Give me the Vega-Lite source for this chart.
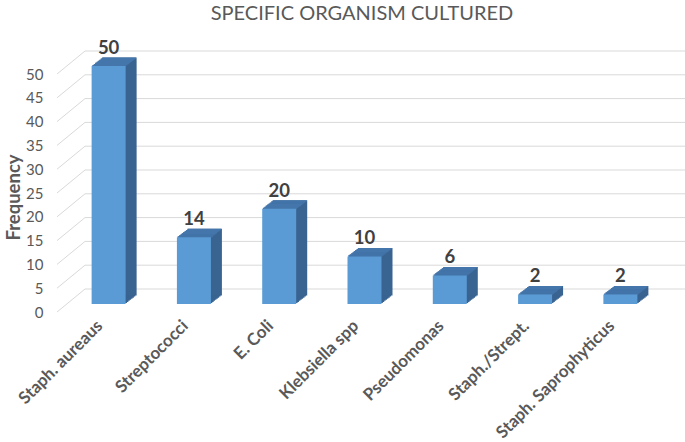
{
  "$schema": "https://vega.github.io/schema/vega-lite/v6.json",
  "width": 600,
  "height": 238,
  "autosize": {"type": "none"},
  "padding": {"left": 85, "top": 51, "right": 0, "bottom": 153},
  "background": "#ffffff",
  "title": {"text": "SPECIFIC ORGANISM CULTURED", "font": "Lato", "fontSize": 20, "fontWeight": "normal", "color": "#595959", "anchor": "middle", "frame": "group", "dx": -23, "offset": 15},
  "config": {
    "view": {"stroke": null},
    "axisX": {"title": null, "domain": false, "ticks": false, "labelAngle": -45, "labelAlign": "right", "labelBaseline": "middle", "labelOffset": -29, "labelPadding": 34, "labelFont": "Lato", "labelFontSize": 17, "labelFontWeight": "bold", "labelColor": "#595959", "labelOverlap": false, "labelLimit": 300, "labelBound": false, "grid": false},
    "axisY": {"grid": false, "domain": false, "ticks": false, "labelOverlap": false, "labelOffset": 23, "labelPadding": 42, "labelFont": "Lato", "labelFontSize": 15, "labelColor": "#595959", "titleFont": "Lato", "titleFontSize": 18.5, "titleFontWeight": "bold", "titleColor": "#595959", "titleAngle": -90, "titleX": -72, "titleY": 146, "titleAlign": "center", "titleBaseline": "middle"}
  },
  "datasets": {
    "organisms": [
      {"organism": "Staph. aureaus", "frequency": 50},
      {"organism": "Streptococci", "frequency": 14},
      {"organism": "E. Coli", "frequency": 20},
      {"organism": "Klebsiella spp", "frequency": 10},
      {"organism": "Pseudomonas", "frequency": 6},
      {"organism": "Staph./Strept.", "frequency": 2},
      {"organism": "Staph. Saprophyticus", "frequency": 2}
    ],
    "ticks": [
      {"t": 0}, {"t": 5}, {"t": 10}, {"t": 15}, {"t": 20}, {"t": 25},
      {"t": 30}, {"t": 35}, {"t": 40}, {"t": 45}, {"t": 50}
    ]
  },
  "data": {"name": "organisms"},
  "encoding": {
    "x": {
      "field": "organism", "type": "nominal", "title": null,
      "scale": {"domain": ["Staph. aureaus", "Streptococci", "E. Coli", "Klebsiella spp", "Pseudomonas", "Staph./Strept.", "Staph. Saprophyticus"], "paddingInner": 0.6014, "paddingOuter": 0.318}
    },
    "y": {
      "field": "frequency", "type": "quantitative", "title": "Frequency",
      "scale": {"domain": [0, 50], "nice": false},
      "axis": {"values": [0, 5, 10, 15, 20, 25, 30, 35, 40, 45, 50], "labelOverlap": false}
    }
  },
  "layer": [
    {
      "data": {"name": "ticks"},
      "mark": {"type": "rule", "color": "#d9d9d9", "strokeWidth": 1},
      "encoding": {
        "x": null,
        "y": {"field": "t", "type": "quantitative", "title": "Frequency", "axis": {"values": [0, 5, 10, 15, 20, 25, 30, 35, 40, 45, 50], "labelOverlap": false}}
      }
    },
    {
      "data": {"name": "ticks"},
      "mark": {"type": "rule", "color": "#d9d9d9", "strokeWidth": 1, "xOffset": -55.1, "x2Offset": -27.1, "yOffset": 23, "y2Offset": 0},
      "encoding": {
        "x": {"datum": "Staph. aureaus", "type": "nominal", "bandPosition": 0, "title": null},
        "x2": {"datum": "Staph. aureaus", "bandPosition": 0},
        "y": {"field": "t", "type": "quantitative", "title": "Frequency", "axis": {"values": [0, 5, 10, 15, 20, 25, 30, 35, 40, 45, 50], "labelOverlap": false}},
        "y2": {"field": "t"}
      }
    },
    {"mark": {"type": "bar", "color": "#396390", "xOffset": -19.125, "x2Offset": -19.125, "yOffset": 13.9375, "y2Offset": 13.9375}, "encoding": {"y2": {"datum": 0}}},
    {"mark": {"type": "bar", "color": "#396390", "xOffset": -17.75, "x2Offset": -17.75, "yOffset": 12.875, "y2Offset": 12.875}, "encoding": {"y2": {"datum": 0}}},
    {"mark": {"type": "bar", "color": "#396390", "xOffset": -16.375, "x2Offset": -16.375, "yOffset": 11.8125, "y2Offset": 11.8125}, "encoding": {"y2": {"datum": 0}}},
    {"mark": {"type": "bar", "color": "#396390", "xOffset": -15, "x2Offset": -15, "yOffset": 10.75, "y2Offset": 10.75}, "encoding": {"y2": {"datum": 0}}},
    {"mark": {"type": "bar", "color": "#396390", "xOffset": -13.625, "x2Offset": -13.625, "yOffset": 9.6875, "y2Offset": 9.6875}, "encoding": {"y2": {"datum": 0}}},
    {"mark": {"type": "bar", "color": "#396390", "xOffset": -12.25, "x2Offset": -12.25, "yOffset": 8.625, "y2Offset": 8.625}, "encoding": {"y2": {"datum": 0}}},
    {"mark": {"type": "bar", "color": "#396390", "xOffset": -10.875, "x2Offset": -10.875, "yOffset": 7.5625, "y2Offset": 7.5625}, "encoding": {"y2": {"datum": 0}}},
    {"mark": {"type": "bar", "color": "#396390", "xOffset": -9.5, "x2Offset": -9.5, "yOffset": 6.5, "y2Offset": 6.5}, "encoding": {"y2": {"datum": 0}}},
    {"mark": {"type": "bar", "color": "#4576ab", "xOffset": -19.8125, "x2Offset": -19.8125, "yOffset": 13.9375, "y2Offset": 15.4}, "encoding": {"y2": {"field": "frequency"}}},
    {"mark": {"type": "bar", "color": "#4576ab", "xOffset": -18.4375, "x2Offset": -18.4375, "yOffset": 12.875, "y2Offset": 14.3}, "encoding": {"y2": {"field": "frequency"}}},
    {"mark": {"type": "bar", "color": "#4576ab", "xOffset": -17.0625, "x2Offset": -17.0625, "yOffset": 11.8125, "y2Offset": 13.2}, "encoding": {"y2": {"field": "frequency"}}},
    {"mark": {"type": "bar", "color": "#4576ab", "xOffset": -15.6875, "x2Offset": -15.6875, "yOffset": 10.75, "y2Offset": 12.2}, "encoding": {"y2": {"field": "frequency"}}},
    {"mark": {"type": "bar", "color": "#4576ab", "xOffset": -14.3125, "x2Offset": -14.3125, "yOffset": 9.6875, "y2Offset": 11.1}, "encoding": {"y2": {"field": "frequency"}}},
    {"mark": {"type": "bar", "color": "#4576ab", "xOffset": -12.9375, "x2Offset": -12.9375, "yOffset": 8.625, "y2Offset": 10.0}, "encoding": {"y2": {"field": "frequency"}}},
    {"mark": {"type": "bar", "color": "#4576ab", "xOffset": -11.5625, "x2Offset": -11.5625, "yOffset": 7.5625, "y2Offset": 9.0}, "encoding": {"y2": {"field": "frequency"}}},
    {"mark": {"type": "bar", "color": "#4576ab", "xOffset": -10.1875, "x2Offset": -10.1875, "yOffset": 6.5, "y2Offset": 7.9}, "encoding": {"y2": {"field": "frequency"}}},
    {"mark": {"type": "bar", "color": "#5b9bd5", "xOffset": -20.5, "x2Offset": -20.5, "yOffset": 15, "y2Offset": 15}, "encoding": {"y2": {"datum": 0}}},
    {
      "mark": {"type": "text", "font": "Lato", "fontSize": 18.5, "fontWeight": "bold", "color": "#404040", "align": "center", "baseline": "alphabetic", "xOffset": -20.5, "yOffset": 3},
      "encoding": {"text": {"field": "frequency", "type": "quantitative"}}
    }
  ]
}
